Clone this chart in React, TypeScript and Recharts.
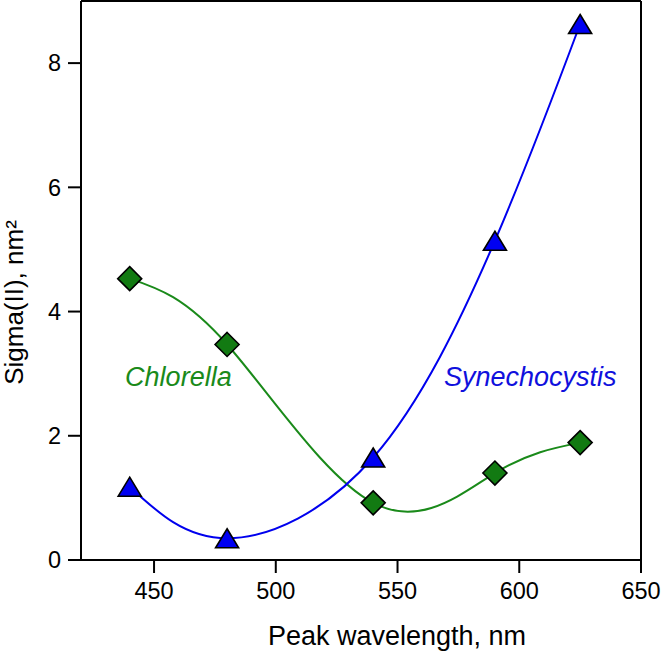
import {
  LineChart,
  Line,
  XAxis,
  YAxis,
  ReferenceLine,
  ReferenceDot,
} from 'recharts';

const wavelengths = [440, 480, 540, 590, 625];
const synechocystis = [1.18, 0.35, 1.65, 5.14, 8.63];
const chlorella = [4.53, 3.47, 0.92, 1.4, 1.89];
const xTicks = [450, 500, 550, 600, 650];
const yTicks = [0, 2, 4, 6, 8];

// where the two species names sit, in data units
const chlorellaLabelAt = { x: 460, y: 2.94 };
const synechoLabelAt = { x: 604.5, y: 2.94 };

const FONT = "'Liberation Sans', Arial, sans-serif";
const GREEN_LINE = '#1a8a1a';
const GREEN_FILL = '#127a12';
const BLUE_LINE = '#0000ee';
const BLUE_FILL = '#0000f2';

const data = wavelengths.map((wl, i) => ({
  wl,
  syn: synechocystis[i],
  chl: chlorella[i],
}));

function TriangleDot(props: any) {
  const { cx, cy } = props;
  if (cx == null || cy == null) return null;
  const w = 11.5;
  const h = 9.5;
  return (
    <polygon
      points={`${cx},${cy - h} ${cx + w},${cy + h} ${cx - w},${cy + h}`}
      fill={BLUE_FILL}
      stroke="#000"
      strokeWidth={1.6}
      strokeLinejoin="miter"
    />
  );
}

function DiamondDot(props: any) {
  const { cx, cy } = props;
  if (cx == null || cy == null) return null;
  const r = 12;
  return (
    <polygon
      points={`${cx},${cy - r} ${cx + r},${cy} ${cx},${cy + r} ${cx - r},${cy}`}
      fill={GREEN_FILL}
      stroke="#000"
      strokeWidth={1.6}
    />
  );
}

const speciesLabel = (text: string, color: string) => (props: any) => {
  const { viewBox } = props;
  const x = viewBox.cx ?? viewBox.x;
  const y = viewBox.cy ?? viewBox.y;
  return (
    <text
      x={x}
      y={y}
      textAnchor="middle"
      dominantBaseline="central"
      fill={color}
      fontSize={27}
      fontStyle="italic"
      fontFamily={FONT}
    >
      {text}
    </text>
  );
};

const yTitle = (props: any) => {
  const { viewBox } = props;
  const x = viewBox.x + 14;
  const y = viewBox.y + viewBox.height / 2 + 22;
  return (
    <text
      x={x}
      y={y}
      transform={`rotate(-90, ${x}, ${y})`}
      textAnchor="middle"
      dominantBaseline="central"
      fontSize={26}
      fontFamily={FONT}
      fill="#000"
    >
      Sigma(II), nm²
    </text>
  );
};

const xTitle = (props: any) => {
  const { viewBox } = props;
  const x = viewBox.x + viewBox.width / 2 + 36;
  const y = viewBox.y + 85;
  return (
    <text x={x} y={y} textAnchor="middle" fontSize={27} fontFamily={FONT} fill="#000">
      Peak wavelength, nm
    </text>
  );
};

export default function App() {
  return (
    <div style={{ position: 'fixed', left: 0, top: 0, background: '#fff' }}>
      <LineChart
        width={661}
        height={651}
        data={data}
        margin={{ top: 1, right: 20, left: 0, bottom: 0 }}
      >
        <XAxis
          dataKey="wl"
          type="number"
          domain={[420, 650]}
          ticks={xTicks}
          allowDataOverflow
          height={91}
          tickSize={13}
          tickMargin={9}
          stroke="#000"
          strokeWidth={2}
          tick={{ fill: '#000', fontSize: 23.5, fontFamily: FONT }}
          label={{ content: xTitle }}
        />
        <YAxis
          type="number"
          domain={[0, 9]}
          ticks={yTicks}
          allowDataOverflow
          width={81}
          tickSize={13}
          tickMargin={7}
          stroke="#000"
          strokeWidth={2}
          tick={{ fill: '#000', fontSize: 23.5, fontFamily: FONT }}
          label={{ content: yTitle }}
        />
        <ReferenceLine y={9} stroke="#000" strokeWidth={2} />
        <ReferenceLine x={650} stroke="#000" strokeWidth={2} />
        <Line
          type="natural"
          dataKey="chl"
          stroke={GREEN_LINE}
          strokeWidth={2}
          dot={<DiamondDot />}
          activeDot={false}
          isAnimationActive={false}
        />
        <Line
          type="natural"
          dataKey="syn"
          stroke={BLUE_LINE}
          strokeWidth={2}
          dot={<TriangleDot />}
          activeDot={false}
          isAnimationActive={false}
        />
        <ReferenceDot
          x={chlorellaLabelAt.x}
          y={chlorellaLabelAt.y}
          r={0}
          stroke="none"
          fill="none"
          label={{ content: speciesLabel('Chlorella', GREEN_LINE) }}
        />
        <ReferenceDot
          x={synechoLabelAt.x}
          y={synechoLabelAt.y}
          r={0}
          stroke="none"
          fill="none"
          label={{ content: speciesLabel('Synechocystis', '#1010dd') }}
        />
      </LineChart>
    </div>
  );
}
